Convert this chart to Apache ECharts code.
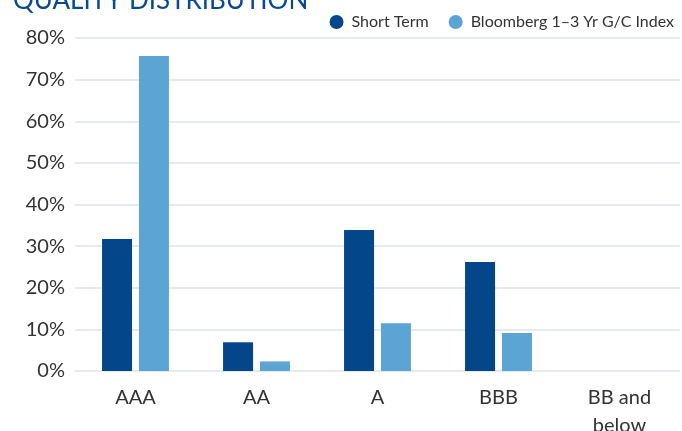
<!DOCTYPE html>
<html>
<head>
<meta charset="utf-8">
<script src="https://cdn.jsdelivr.net/npm/echarts@6/dist/echarts.min.js"></script>
<style>
  html, body { margin: 0; padding: 0; background: #fff; }
  #chart { width: 682px; height: 431px; }
</style>
</head>
<body>
<div id="chart"></div>
<script>
var categories = ['AAA', 'AA', 'A', 'BBB', 'BB and\nbelow'];
var shortTerm = [31.7, 6.9, 33.9, 26.2, 0];
var bloomberg = [75.7, 2.3, 11.5, 9.1, 0];

var myChart = echarts.init(document.getElementById('chart'));
var option = {
    textStyle: { fontFamily: 'Lato' },
    title: {
        text: 'QUALITY DISTRIBUTION',
        left: 8,
        top: -17,
        textStyle: { color: '#0a4a8c', fontSize: 26, fontWeight: 'normal', fontFamily: 'Lato' }
    },
    legend: {
        data: ['Short Term', 'Bloomberg 1\u20133 Yr G/C Index'],
        right: 3,
        top: 9,
        icon: 'circle',
        itemWidth: 14,
        itemHeight: 14,
        itemGap: 20,
        textStyle: { color: '#333', fontSize: 16, fontFamily: 'Lato', padding: [0, 0, 0, 3] }
    },
    grid: { left: 75, right: 2, top: 38, bottom: 60, outerBoundsMode: 'none' },
    xAxis: {
        type: 'category',
        data: categories,
        axisLine: { show: false },
        axisTick: { show: false },
        axisLabel: { color: '#333', fontSize: 20, margin: 13, lineHeight: 28 }
    },
    yAxis: {
        type: 'value',
        min: 0,
        max: 80,
        interval: 10,
        axisLabel: { formatter: '{value}%', color: '#333', fontSize: 20, margin: 10 },
        splitLine: { lineStyle: { color: '#e4ecef', width: 2 } }
    },
    series: [{
        name: 'Short Term',
        type: 'bar',
        data: shortTerm,
        barWidth: 30,
        barGap: '23%',
        itemStyle: { color: '#03468a' }
    }, {
        name: 'Bloomberg 1\u20133 Yr G/C Index',
        type: 'bar',
        data: bloomberg,
        barWidth: 30,
        itemStyle: { color: '#5ca4d4' }
    }]
};
myChart.setOption(option);
</script>
</body>
</html>
